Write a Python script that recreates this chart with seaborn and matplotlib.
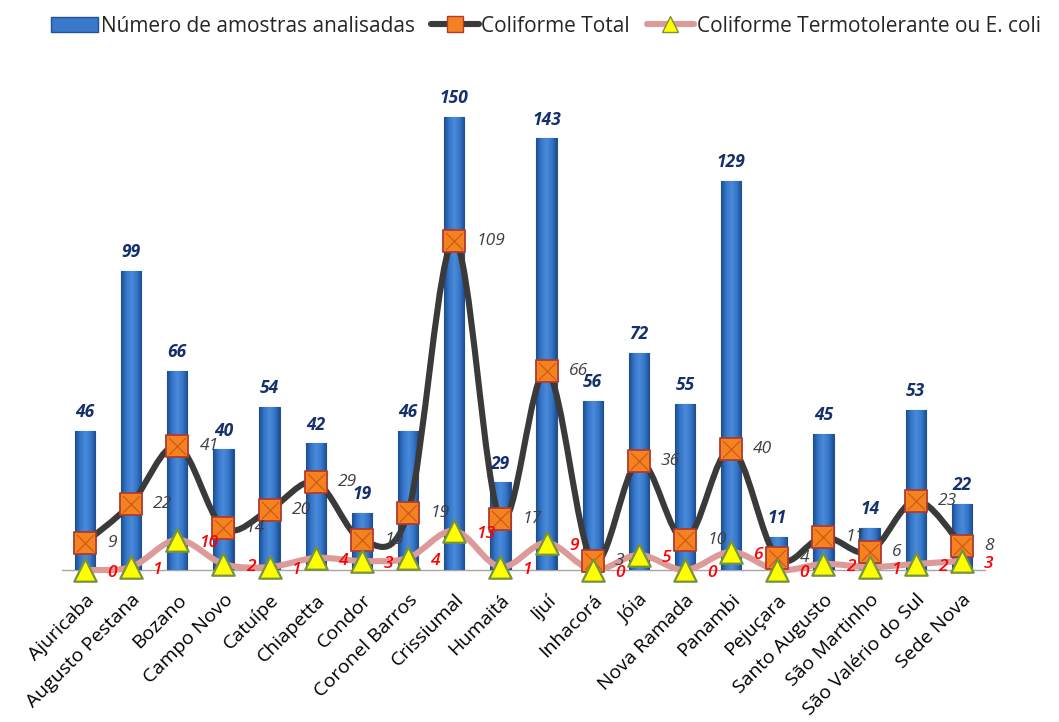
import numpy as np
import pandas as pd
import matplotlib
matplotlib.use("Agg")
import matplotlib.pyplot as plt
import seaborn as sns
from matplotlib.path import Path
from matplotlib.patches import PathPatch, Patch
from matplotlib.lines import Line2D
from matplotlib.colors import LinearSegmentedColormap

# Municípios e resultados das análises
municipios = ["Ajuricaba", "Augusto Pestana", "Bozano", "Campo Novo", "Catuípe",
              "Chiapetta", "Condor", "Coronel Barros", "Crissiumal", "Humaitá",
              "Ijuí", "Inhacorá", "Jóia", "Nova Ramada", "Panambi", "Pejuçara",
              "Santo Augusto", "São Martinho", "São Valério do Sul", "Sede Nova"]
amostras = [46, 99, 66, 40, 54, 42, 19, 46, 150, 29, 143, 56, 72, 55, 129, 11, 45, 14, 53, 22]
coliforme_total = [9, 22, 41, 14, 20, 29, 10, 19, 109, 17, 66, 3, 36, 10, 40, 4, 11, 6, 23, 8]
termotolerante = [0, 1, 10, 2, 1, 4, 3, 4, 13, 1, 9, 0, 5, 0, 6, 0, 2, 1, 2, 3]

legend_labels = ["Número de amostras analisadas", "Coliforme Total",
                 "Coliforme Termotolerante ou E. coli"]

sns.set_theme(style="white")
plt.rcParams["font.family"] = ["Open Sans", "DejaVu Sans"]

df = pd.DataFrame({"municipio": municipios, "amostras": amostras,
                   "total": coliforme_total, "termo": termotolerante})
df["pos"] = np.arange(len(df))

fig = plt.figure(figsize=(10.59, 7.22), dpi=100)
ax = fig.add_axes([0.0585, 0.2105, 0.8716, 0.669])

bar_color = "#3a78cc"
sns.barplot(data=df, x="municipio", y="amostras", color=bar_color, width=0.44,
            saturation=1, edgecolor="#24548f", linewidth=0.8, ax=ax, zorder=2)

# cylinder-like shading on each bar
shade = LinearSegmentedColormap.from_list(
    "shade", ["#1d4c8e", "#3677cc", "#4a8ad8", "#3677cc", "#1d4c8e"])
grad = np.linspace(0, 1, 64).reshape(1, -1)
for patch in list(ax.patches):
    x0, w, h = patch.get_x(), patch.get_width(), patch.get_height()
    im = ax.imshow(grad, extent=[x0, x0 + w, 0, h], aspect="auto", cmap=shade,
                   zorder=2.1, interpolation="bicubic")
    im.set_clip_path(patch)


def smooth_path(xs, ys):
    """Smoothed polyline (Catmull-Rom as cubic Bezier segments)."""
    pts = np.column_stack([xs, ys]).astype(float)
    verts = [tuple(pts[0])]
    codes = [Path.MOVETO]
    n = len(pts)
    for i in range(n - 1):
        p0 = pts[i - 1] if i > 0 else pts[i]
        p1, p2 = pts[i], pts[i + 1]
        p3 = pts[i + 2] if i + 2 < n else pts[i + 1]
        c1 = p1 + (p2 - p0) / 6.0
        c2 = p2 - (p3 - p1) / 6.0
        verts += [tuple(c1), tuple(c2), tuple(p2)]
        codes += [Path.CURVE4] * 3
    return Path(verts, codes)


total_line = "#3a3a3a"
termo_line = "#dc9a98"
ax.add_patch(PathPatch(smooth_path(df["pos"], df["termo"]), facecolor="none",
                       edgecolor=termo_line, lw=4.4, zorder=3, capstyle="round",
                       clip_on=False))
ax.add_patch(PathPatch(smooth_path(df["pos"], df["total"]), facecolor="none",
                       edgecolor=total_line, lw=4.4, zorder=4, capstyle="round",
                       clip_on=False))

sns.scatterplot(x=df["pos"], y=df["total"], marker="s", s=250, color="#f58220",
                edgecolor="#b03a2e", linewidth=1.3, ax=ax, zorder=5, clip_on=False,
                legend=False)
sns.scatterplot(x=df["pos"], y=df["total"], marker="x", s=150, color="#cf5a14",
                linewidth=0.9, ax=ax, zorder=5.1, clip_on=False, legend=False)
sns.scatterplot(x=df["pos"], y=df["termo"], marker="^", s=260, color="#ffff00",
                edgecolor="#77933c", linewidth=1.6, ax=ax, zorder=6, clip_on=False,
                legend=False)

# data labels
for i, row in df.iterrows():
    ax.annotate(str(row["amostras"]), (row["pos"], row["amostras"]),
                xytext=(0, 7), textcoords="offset points", ha="center", va="bottom",
                fontsize=12.5, fontweight="bold", fontstyle="italic", color="#15306b",
                zorder=7)
    ax.annotate(str(row["total"]), (row["pos"], row["total"]),
                xytext=(16, 0), textcoords="offset points", ha="left", va="center",
                fontsize=12.5, fontstyle="italic", color="#404040", zorder=7)
    ax.annotate(str(row["termo"]), (row["pos"], row["termo"]),
                xytext=(16, -2), textcoords="offset points", ha="left", va="center",
                fontsize=12.5, fontstyle="italic", fontweight="semibold",
                color="#ff0000", zorder=7, annotation_clip=False)

ax.set_xlim(-0.5, len(df) - 0.5)
ax.set_ylim(0, 160)
ax.set_xlabel("")
ax.set_ylabel("")
ax.set_yticks([])
ax.set_xticks(df["pos"])
ax.set_xticklabels(municipios, rotation=45, ha="right", rotation_mode="anchor",
                   fontsize=14, color="#000000")
ax.tick_params(axis="x", length=0, pad=15)
for side in ["top", "left", "right"]:
    ax.spines[side].set_visible(False)
ax.spines["bottom"].set_color("#a6a6a6")
ax.spines["bottom"].set_linewidth(1.0)
ax.spines["bottom"].set_zorder(1)

handles = [
    Patch(facecolor=bar_color, edgecolor="#24548f"),
    Line2D([], [], color=total_line, lw=4.4, marker="s", markersize=11,
           markerfacecolor="#f58220", markeredgecolor="#b03a2e"),
    Line2D([], [], color=termo_line, lw=4.4, marker="^", markersize=12,
           markerfacecolor="#ffff00", markeredgecolor="#77933c"),
]
fig.legend(handles, legend_labels, loc="upper left", bbox_to_anchor=(0.033, 1.0),
           ncol=3, frameon=False, fontsize=15, handlelength=2.3, handletextpad=0.1,
           columnspacing=0.8, borderaxespad=0.35)

fig.savefig("out.png", dpi=100)
